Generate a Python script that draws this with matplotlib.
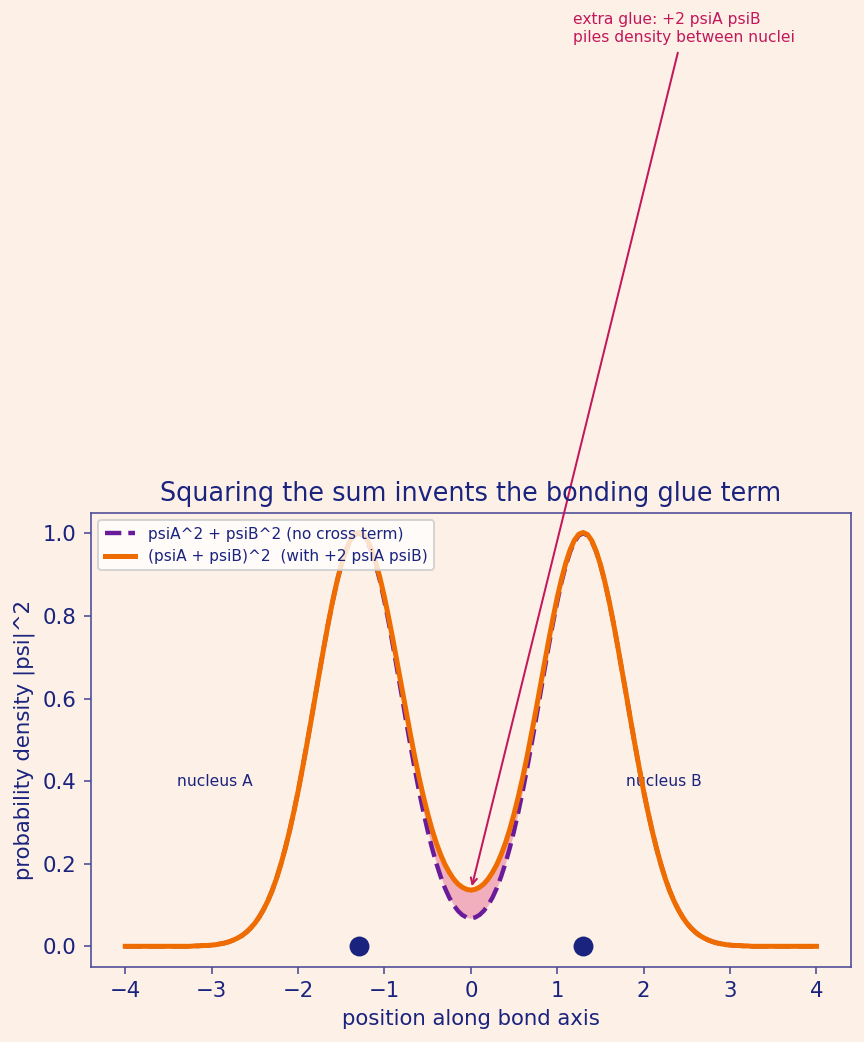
import matplotlib
matplotlib.use("Agg")
from matplotlib import pyplot as plt
import numpy as np

# positions along the bond axis (step 0.05)
x = np.round(np.arange(-80, 81) / 20.0, 2)

# density values, x = 0.00 .. 4.00 (curves are mirror images)
half_sep = [0.068, 0.070, 0.076, 0.086, 0.100, 0.118, 0.141, 0.169, 0.201, 0.238,
            0.280, 0.326, 0.376, 0.430, 0.487, 0.546, 0.607, 0.667, 0.726, 0.783,
            0.835, 0.883, 0.923, 0.956, 0.980, 0.995, 1.000, 0.995, 0.980, 0.956,
            0.923, 0.883, 0.835, 0.783, 0.726, 0.667, 0.607, 0.546, 0.487, 0.430,
            0.375, 0.325, 0.278, 0.236, 0.198, 0.164, 0.135, 0.110, 0.089, 0.071,
            0.056, 0.044, 0.034, 0.026, 0.020, 0.015, 0.011, 0.008, 0.006, 0.004,
            0.003, 0.002, 0.002, 0.001, 0.001, 0.000, 0.000, 0.000, 0.000, 0.000,
            0.000, 0.000, 0.000, 0.000, 0.000, 0.000, 0.000, 0.000, 0.000, 0.000,
            0.000]
half_sum = [0.136, 0.138, 0.143, 0.151, 0.163, 0.179, 0.198, 0.222, 0.250, 0.283,
            0.321, 0.363, 0.409, 0.459, 0.513, 0.568, 0.626, 0.683, 0.740, 0.794,
            0.845, 0.890, 0.929, 0.961, 0.984, 0.998, 1.002, 0.997, 0.982, 0.957,
            0.924, 0.883, 0.836, 0.783, 0.726, 0.667, 0.607, 0.546, 0.487, 0.430,
            0.375, 0.325, 0.278, 0.236, 0.198, 0.164, 0.135, 0.110, 0.089, 0.071,
            0.056, 0.044, 0.034, 0.026, 0.020, 0.015, 0.011, 0.008, 0.006, 0.004,
            0.003, 0.002, 0.002, 0.001, 0.001, 0.000, 0.000, 0.000, 0.000, 0.000,
            0.000, 0.000, 0.000, 0.000, 0.000, 0.000, 0.000, 0.000, 0.000, 0.000,
            0.000]
dens_sep = np.array(half_sep[:0:-1] + half_sep)
dens_sum = np.array(half_sum[:0:-1] + half_sum)

nuclei_x = [-1.3, 1.3]
nuclei_y = [0.0, 0.0]

BG = "#fdf0e6"
NAVY = "#1a237e"
SPINE = "#4b4a96"

fig = plt.figure(figsize=(6, 1042 / 144.0), dpi=144, facecolor=BG)
ax = fig.add_axes([0.105, 0.072, 0.880, 0.436], facecolor=BG)

ax.fill_between(x, dens_sep, dens_sum, where=dens_sum >= dens_sep,
                color="#d81b60", alpha=0.3, linewidth=0, zorder=1)
ax.plot(x, dens_sep, "--", color="#6a1b9a", lw=2.2, zorder=3,
        label="psiA^2 + psiB^2 (no cross term)")
ax.plot(x, dens_sum, "-", color="#ef6c00", lw=2.5, zorder=4,
        label="(psiA + psiB)^2  (with +2 psiA psiB)")
ax.scatter(nuclei_x, nuclei_y, s=80, color=NAVY, zorder=5)

ax.text(-2.96, 0.40, "nucleus A", ha="center", va="center", fontsize=7.75,
        color=NAVY, zorder=2)
ax.text(2.23, 0.40, "nucleus B", ha="center", va="center", fontsize=7.75,
        color=NAVY, zorder=2)

ax.annotate("extra glue: +2 psiA psiB\npiles density between nuclei",
            xy=(0, half_sum[0]), xytext=(1.18, 2.19), fontsize=7.75,
            color="#c2185b", ha="left", annotation_clip=False,
            arrowprops=dict(arrowstyle="->", color="#c2185b", lw=1.0))

ax.set_xlim(-4.4, 4.4)
ax.set_ylim(-0.05, 1.05)
ax.set_title("Squaring the sum invents the bonding glue term", fontsize=12.75,
             color=NAVY)
ax.set_xlabel("position along bond axis", fontsize=10.6, color=NAVY)
ax.set_ylabel("probability density |psi|^2", fontsize=10.6, color=NAVY)
ax.tick_params(colors=NAVY, labelsize=10.6)
for sp in ax.spines.values():
    sp.set_color(SPINE)
ax.tick_params(axis="both", color=SPINE)

leg = ax.legend(loc="upper left", fontsize=7.7, labelcolor=NAVY,
                framealpha=0.8, borderpad=0.4, handlelength=2.0)

fig.savefig("out.png", dpi=144, facecolor=BG)
